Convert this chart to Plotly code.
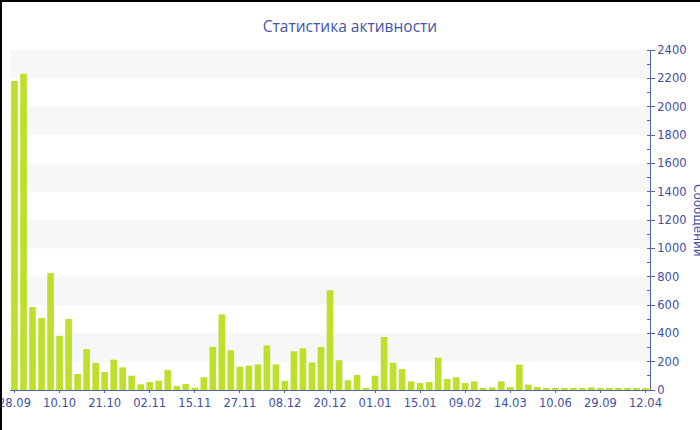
import plotly.graph_objects as go

# Data
bar_index = list(range(71))
messages = [2181, 2233, 586, 508, 826, 381, 501, 113, 289, 193,
            127, 214, 160, 101, 40, 56, 66, 141, 28, 42,
            16, 90, 304, 534, 280, 165, 172, 181, 315, 181,
            64, 273, 294, 195, 304, 704, 210, 68, 106, 14,
            101, 374, 193, 148, 61, 49, 56, 228, 78, 90,
            49, 61, 12, 19, 61, 21, 179, 38, 21, 8,
            8, 8, 8, 8, 18, 8, 8, 8, 8, 8, 10]
tick_positions = list(range(0, 71, 5))
tick_labels = ["28.09", "10.10", "21.10", "02.11", "15.11", "27.11", "08.12",
               "20.12", "01.01", "15.01", "09.02", "14.03", "10.06", "29.09", "12.04"]

TEXT = "#3f50a0"
LINE = "#5064a8"
FONT = "DejaVu Sans"

fig = go.Figure()
fig.add_bar(x=bar_index, y=messages, marker=dict(color="#bde02c", line=dict(width=0)),
            hoverinfo="y")

shapes = []
for lo in range(200, 2400, 400):
    shapes.append(dict(type="rect", xref="paper", yref="y", x0=0, x1=1, y0=lo, y1=lo + 200,
                       fillcolor="#f7f7f7", line=dict(width=0), layer="below"))
# black frame edges on left and top of the image
shapes.append(dict(type="rect", xref="paper", yref="paper",
                   x0=-10 / 640, x1=-8 / 640, y0=-40 / 340, y1=1 + 50 / 340,
                   fillcolor="black", line=dict(width=0)))
shapes.append(dict(type="rect", xref="paper", yref="paper",
                   x0=-10 / 640, x1=1 + 50 / 640, y0=1 + 48 / 340, y1=1 + 50 / 340,
                   fillcolor="black", line=dict(width=0)))

fig.update_layout(
    width=700, height=430,
    margin=dict(l=10, r=50, t=50, b=40, autoexpand=False),
    paper_bgcolor="white", plot_bgcolor="white",
    showlegend=False,
    bargap=0.26,
    font=dict(family=FONT, size=11, color=TEXT),
    title=dict(text="Статистика активности", x=0.5, xanchor="center", y=0.938, yanchor="middle",
               xref="container", font=dict(family="Open Sans", size=15.5, color="#4255a6")),
    shapes=shapes,
    xaxis=dict(range=[-0.5, 70.5], tickmode="array", tickvals=tick_positions, ticktext=tick_labels,
               showgrid=False, zeroline=False, showline=True, linecolor=LINE, linewidth=1,
               ticks="outside", ticklen=2, tickcolor=LINE, tickfont=dict(size=11.5, color=TEXT),
               automargin=False, ticklabeloverflow="allow"),
    yaxis=dict(range=[0, 2400], side="right", dtick=200, showgrid=False, zeroline=False,
               showline=True, linecolor=LINE, linewidth=1, ticks="outside", ticklen=4,
               tickcolor=LINE, tickfont=dict(size=11.5, color=TEXT), automargin=False,
               ticklabeloverflow="allow",
               minor=dict(dtick=100, ticks="inside", ticklen=3, tickcolor=LINE)),
    annotations=[dict(text="Сообщений", textangle=90, xref="paper", yref="paper",
                      x=(698 - 10) / 640, y=0.5, xanchor="center", yanchor="middle",
                      showarrow=False, font=dict(family=FONT, size=12, color=TEXT))],
)

fig.write_html("out.html", config={"displayModeBar": False},
               post_script="document.body.style.margin='0';document.body.style.overflow='hidden';")
